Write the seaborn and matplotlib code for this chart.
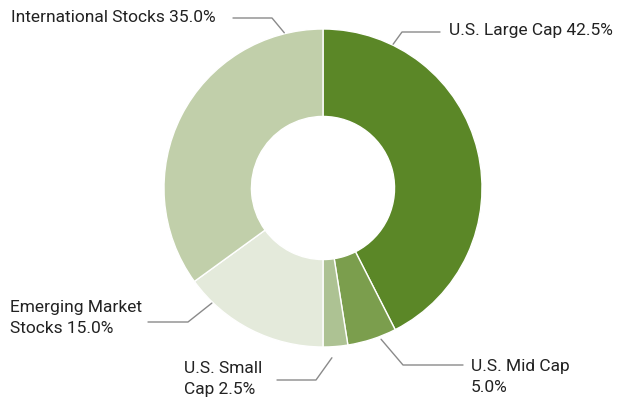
import numpy as np
import matplotlib
matplotlib.use("Agg")
import matplotlib.pyplot as plt
import seaborn as sns

labels = ["U.S. Large Cap 42.5%", "U.S. Mid Cap\n5.0%", "U.S. Small\nCap 2.5%",
          "Emerging Market\nStocks 15.0%", "International Stocks 35.0%"]
values = [42.5, 5.0, 2.5, 15.0, 35.0]
colors = ["#5b8727", "#7b9e4d", "#adc293", "#e4eadb", "#c1cfaa"]

sns.set_theme(style="white")
plt.rcParams['font.family'] = ['Liberation Sans Narrow', 'Roboto', 'DejaVu Sans']

fig = plt.figure(figsize=(6.3, 4.05), dpi=100)
ax = fig.add_axes([0, 0, 1, 1])

cx, cy, r = 323, 217, 159
ax.pie(values, colors=colors, startangle=90, counterclock=False,
       center=(cx, cy), radius=r, frame=True,
       wedgeprops=dict(width=r * 0.55, edgecolor="white", linewidth=1))
ax.set_xlim(0, 630)
ax.set_ylim(0, 405)
ax.set_aspect("equal")
ax.axis("off")

# leader lines: anchor angle on the ring, elbow, end of horizontal; text pos
anchors = [64, -69, -87, -134, 104]
rads = [160, 162, 170, 160, 160]
elbows = [(402, 373), (403, 40), (316, 25), (188, 83), (272, 387)]
ends = [440, 463, 277, 148, 233]
text_pos = [(449, 374, "left"), (471, 28, "left"), (184, 26, "left"),
            (10, 87, "left"), (216, 388, "right")]

for lab, ang, rr, el, e, tp in zip(labels, anchors, rads, elbows, ends, text_pos):
    a = np.deg2rad(ang)
    x0, y0 = cx + rr * np.cos(a), cy + rr * np.sin(a)
    ax.plot([x0, el[0], e], [y0, el[1], el[1]], color="#8a8a8a", lw=1)
    ax.text(tp[0], tp[1], lab, ha=tp[2], va="center", fontsize=12.5,
            color="#222222", linespacing=1.5)

fig.savefig("out.png", dpi=100)
